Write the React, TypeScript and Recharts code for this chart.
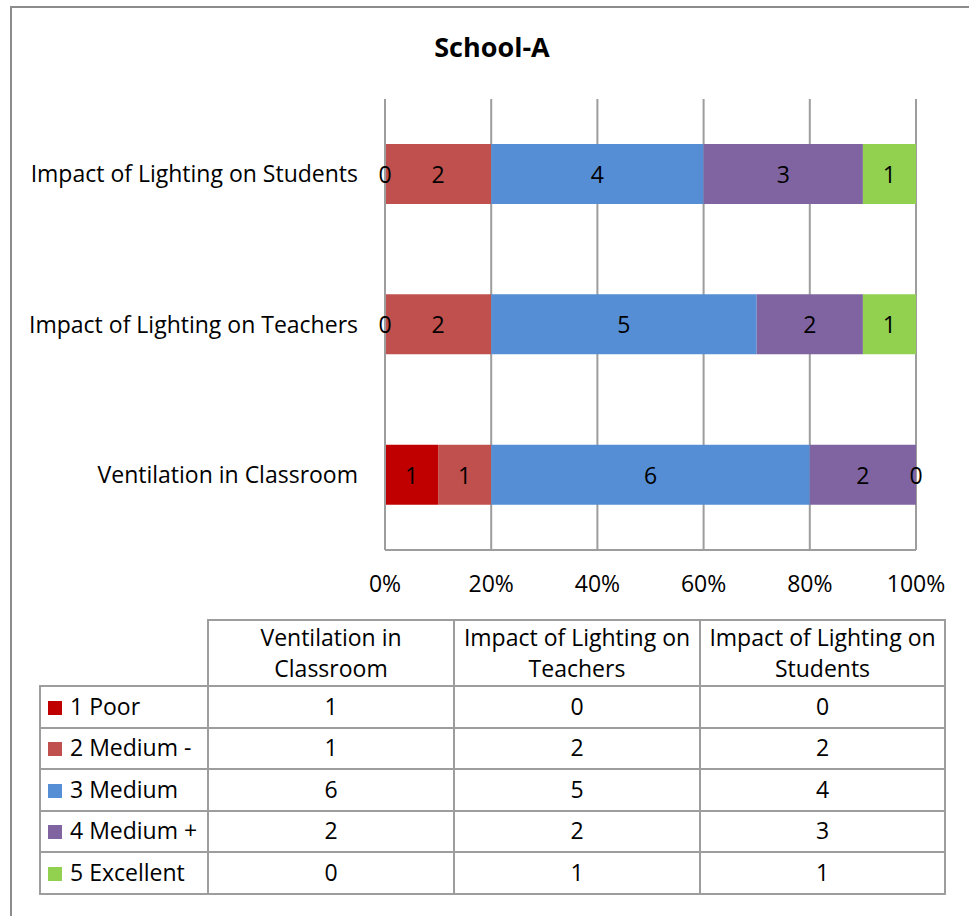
import React from "react";
import { BarChart, Bar, XAxis, YAxis, CartesianGrid, LabelList } from "recharts";

const categories = [
  "Ventilation in Classroom",
  "Impact of Lighting on Teachers",
  "Impact of Lighting on Students",
];
const headerLabels = [
  ["Ventilation in", "Classroom"],
  ["Impact of Lighting on", "Teachers"],
  ["Impact of Lighting on", "Students"],
];
const seriesNames = ["1 Poor", "2 Medium -", "3 Medium", "4 Medium +", "5 Excellent"];
const seriesKeys = ["poor", "mediumMinus", "medium", "mediumPlus", "excellent"];
const seriesColors = ["#C00000", "#C0504D", "#558ED5", "#8064A2", "#92D050"];
const poor = [1, 0, 0];
const mediumMinus = [1, 2, 2];
const medium = [6, 5, 4];
const mediumPlus = [2, 2, 3];
const excellent = [0, 1, 1];
const xTicks = [0, 0.2, 0.4, 0.6, 0.8, 1];

const seriesValues = [poor, mediumMinus, medium, mediumPlus, excellent];

const data = categories.map((c, i) => {
  const row: Record<string, string | number> = { name: c };
  seriesKeys.forEach((k, s) => {
    row[k] = seriesValues[s][i];
  });
  return row;
});

const FONT = "'Open Sans', 'Noto Sans', sans-serif";
const GRID = "#9d9d9d";
const TXT = 23;

// For a zero-valued segment (drawn with no width), find the neighbouring
// non-zero segment whose edge marks its position.
function zeroOwner(j: number, i: number): { owner: number; side: "left" | "right" } | null {
  for (let s = j - 1; s >= 0; s--) {
    if (seriesValues[s][i] !== 0) return { owner: s, side: "right" };
  }
  for (let s = j + 1; s < seriesValues.length; s++) {
    if (seriesValues[s][i] !== 0) return { owner: s, side: "left" };
  }
  return null;
}

const makeLabel = (s: number) => (props: any) => {
  const { x, y, width, height, value, index } = props;
  const nx = Number(x);
  const nw = Number(width);
  const cy = Number(y) + Number(height) / 2;
  const items: { x: number; v: number | string }[] = [];
  if (value !== undefined && value !== null) items.push({ x: nx + nw / 2, v: value });
  seriesValues.forEach((vals, j) => {
    if (vals[index] === 0) {
      const o = zeroOwner(j, index);
      if (o && o.owner === s) {
        items.push({ x: o.side === "right" ? nx + nw : nx, v: 0 });
      }
    }
  });
  return (
    <g>
      {items.map((it, k) => (
        <text
          key={k}
          x={it.x}
          y={cy}
          textAnchor="middle"
          dominantBaseline="central"
          fill="#000"
          fontSize={TXT}
        >
          {it.v}
        </text>
      ))}
    </g>
  );
};

export default function App() {
  return (
    <div
      style={{
        position: "absolute",
        left: 0,
        top: 0,
        width: 969,
        height: 916,
        overflow: "hidden",
        background: "#fff",
        fontFamily: FONT,
        color: "#000",
      }}
    >
      <div
        style={{
          position: "absolute",
          left: 10,
          top: 6,
          width: 1100,
          height: 1100,
          border: "2px solid #8c8c8c",
        }}
      />
      <div
        style={{
          position: "absolute",
          left: 0,
          top: 31,
          width: 984,
          textAlign: "center",
          fontSize: 27,
          fontWeight: 700,
          lineHeight: "32px",
        }}
      >
        School-A
      </div>
      <div style={{ position: "absolute", left: 0, top: 0 }}>
        <BarChart
          width={969}
          height={916}
          data={data}
          layout="vertical"
          stackOffset="expand"
          barSize={60}
          margin={{ top: 99, right: 53, bottom: 316, left: 25 }}
        >
          <CartesianGrid vertical horizontal={false} stroke={GRID} strokeWidth={2} />
          <XAxis
            type="number"
            domain={[0, 1]}
            ticks={xTicks}
            tickFormatter={(v: number) => `${Math.round(v * 100)}%`}
            height={50}
            tickSize={0}
            tickMargin={26}
            axisLine={{ stroke: GRID, strokeWidth: 2 }}
            tick={{ fill: "#000", fontSize: TXT }}
            interval={0}
          />
          <YAxis
            type="category"
            dataKey="name"
            reversed
            width={360}
            tickSize={0}
            tickMargin={27}
            axisLine={{ stroke: GRID, strokeWidth: 2 }}
            tick={{ fill: "#000", fontSize: TXT }}
          />
          {seriesKeys.map((k, s) => (
            <Bar
              key={k}
              dataKey={k}
              name={seriesNames[s]}
              stackId="a"
              fill={seriesColors[s]}
              isAnimationActive={false}
            >
              <LabelList dataKey={k} content={makeLabel(s)} />
            </Bar>
          ))}
        </BarChart>
      </div>
      <table
        style={{
          position: "absolute",
          left: 39,
          top: 619,
          borderCollapse: "collapse",
          tableLayout: "fixed",
          fontSize: TXT,
          fontFamily: FONT,
        }}
      >
        <colgroup>
          <col style={{ width: 168 }} />
          <col style={{ width: 246 }} />
          <col style={{ width: 246 }} />
          <col style={{ width: 245 }} />
        </colgroup>
        <tbody>
          <tr style={{ height: 66 }}>
            <td style={{ border: "none" }} />
            {headerLabels.map((h, i) => (
              <td
                key={i}
                style={{
                  border: `2px solid ${GRID}`,
                  textAlign: "center",
                  lineHeight: "31px",
                  padding: 0,
                  verticalAlign: "middle",
                  whiteSpace: "nowrap",
                }}
              >
                {h[0]}
                <br />
                {h[1]}
              </td>
            ))}
          </tr>
          {seriesNames.map((n, s) => (
            <tr key={n} style={{ height: 41.5 }}>
              <td
                style={{
                  border: `2px solid ${GRID}`,
                  padding: "0 0 2px 7px",
                  whiteSpace: "nowrap",
                  verticalAlign: "middle",
                  overflow: "hidden",
                }}
              >
                <span
                  style={{
                    display: "inline-block",
                    width: 14,
                    height: 14,
                    background: seriesColors[s],
                    marginRight: 8,
                  }}
                />
                {n}
              </td>
              {categories.map((c, i) => (
                <td
                  key={c}
                  style={{
                    border: `2px solid ${GRID}`,
                    textAlign: "center",
                    padding: "0 0 2px 0",
                    verticalAlign: "middle",
                  }}
                >
                  {seriesValues[s][i]}
                </td>
              ))}
            </tr>
          ))}
        </tbody>
      </table>
    </div>
  );
}
